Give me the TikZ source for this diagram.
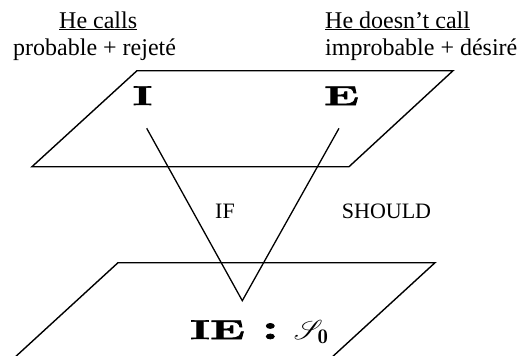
\documentclass[tikz,border=0pt]{standalone}
\usepackage{fontspec}
\usepackage{mathrsfs}
\newfontfamily\tnr{Liberation Serif}
\newfontfamily\heavy[BoldFeatures={FakeBold=2}]{Latin Modern Roman}
\begin{document}
\begin{tikzpicture}[x=1pt,y=-1pt,
  plane/.style={line width=1.4pt, line join=miter},
  link/.style={line width=1.3pt},
  lab/.style={font=\tnr\fontsize{24}{28}\selectfont, inner sep=0pt, anchor=base west},
  small/.style={font=\tnr\fontsize{22}{26}\selectfont, inner sep=0pt, anchor=base},
  big/.style={font=\heavy\fontsize{27}{27}\selectfont\bfseries, inner sep=0pt, anchor=base}]
\useasboundingbox (0,0) rectangle (517,356);
\clip (0,0) rectangle (517,356);
% planes
\draw[plane] (137,70.7) -- (453,70.7) -- (349,166.7) -- (32,166.7) -- cycle;
\draw[plane] (118,262.7) -- (435,262.7) -- (330,359) -- (13,359) -- cycle;
% header texts
\node[lab] (hc) at (59,28) {\underline{He calls}};
\node[lab] (hd) at (325,28) {\underline{He doesn’t call}};
\node[lab] (pr) at (13,55) {probable + rejeté};
\node[lab] (im) at (325,55) {improbable + désiré};
% letters
\node[big] (I) at (142.5,105) {\scalebox{1.75}[1]{I}};
\node[big] (E) at (341.5,105) {\scalebox{1.75}[1]{E}};
\node[small] (if) at (225,218) {IF};
\node[small] (sh) at (386.5,218) {SHOULD};
\node[big, anchor=base west] (ie) at (190,339) {\scalebox{1.75}[1]{IE}\hspace{17pt}\scalebox{2}[1.3]{:}\hspace{15pt}\scalebox{1.1}{$\mathscr{S}_{\mathbf{0}}$}};
% connectors
\coordinate (i1) at (146.7,128.3);
\coordinate (e1) at (339,128.3);
\coordinate (apex) at (242.3,300.7);
\draw[link] (i1) -- (apex) -- (e1);
\end{tikzpicture}
\end{document}
